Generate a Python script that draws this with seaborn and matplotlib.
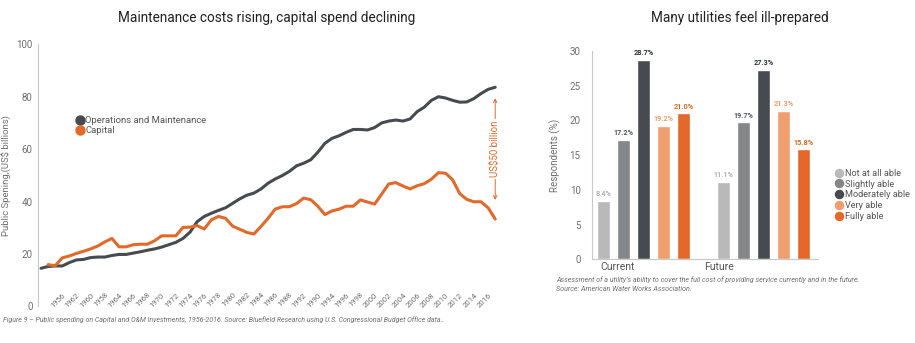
import matplotlib
matplotlib.use("Agg")
import matplotlib.pyplot as plt
from matplotlib.lines import Line2D
import numpy as np
import pandas as pd
import seaborn as sns

# ---- data: public spending (US$ billions) ----
years = list(range(1953, 2018))
om_spend = [14.5, 15.2, 15.4, 15.4, 16.7, 17.7, 17.9, 18.6, 18.8, 18.8,
            19.4, 19.8, 19.8, 20.3, 20.8, 21.4, 21.9, 22.6, 23.5, 24.4,
            25.9, 28.3, 32.3, 34.3, 35.5, 36.6, 37.6, 39.3, 41.0, 42.4,
            43.2, 44.8, 47.0, 48.6, 49.9, 51.5, 53.6, 54.6, 55.9, 58.8,
            62.2, 64.1, 65.1, 66.4, 67.5, 67.5, 67.3, 68.2, 70.0, 70.7,
            71.1, 70.7, 71.5, 74.3, 76.0, 78.6, 80.0, 79.5, 78.6, 77.9,
            78.0, 79.3, 81.2, 82.8, 83.6]
capital_years = years[1:]
capital_spend = [15.9, 15.5, 18.5, 19.2, 20.2, 21.0, 21.9, 23.0, 24.6,
                 25.9, 22.7, 22.7, 23.5, 23.7, 23.7, 25.0, 26.9, 26.9, 26.9,
                 30.1, 30.2, 30.8, 29.5, 33.0, 34.3, 33.6, 30.6, 29.4, 28.2,
                 27.6, 30.5, 33.6, 37.1, 38.0, 38.0, 39.2, 41.3, 40.7, 38.2,
                 35.0, 36.4, 37.1, 38.2, 38.2, 40.6, 39.8, 39.0, 42.8, 46.7,
                 47.2, 45.9, 44.8, 46.0, 46.8, 48.5, 51.0, 50.8, 48.3, 43.0,
                 40.8, 39.9, 39.9, 37.6, 33.3]
tick_years = list(range(1956, 2017, 2))
tick_labels = ["1956", "1962", "1960", "1958", "1964", "1966", "1968", "1970",
               "1972", "1974", "1976", "1978", "1980", "1982", "1984", "1986",
               "1988", "1992", "1990", "1994", "1996", "1998", "2000", "2002",
               "2004", "2006", "2008", "2010", "2012", "2014", "2016"]
gap_label = "US$50 billion"
gap_low, gap_high = 40.6, 79.4

# ---- data: survey of utilities (% of respondents) ----
periods = ["Current", "Future"]
ability = ["Not at all able", "Slightly able", "Moderately able",
           "Very able", "Fully able"]
current_pct = [8.4, 17.2, 28.7, 19.2, 21.0]
future_pct = [11.1, 19.7, 27.3, 21.3, 15.8]

# ---- styling ----
DARK = "#474b50"
ORANGE = "#e2692a"
bar_colors = ["#b9b9b9", "#858688", "#474b50", "#f09e6e", "#e4682a"]
label_colors = ["#b0b0b0", "#55585c", "#2e3134", "#ee9a68", "#e0641f"]
TXT = "#6f6f6f"
TITLE_FONT = ["Roboto", "DejaVu Sans"]

sns.set_theme(style="white")
plt.rcParams["font.family"] = ["Roboto", "DejaVu Sans"]

fig = plt.figure(figsize=(9.15, 3.43), dpi=100)
W, H = 915, 343


def box(x0, y0, x1, y1):
    return [x0 / W, 1 - y1 / H, (x1 - x0) / W, (y1 - y0) / H]


# ================= left: spending lines =================
ax = fig.add_axes(box(38.3, 44.3, 530, 306.3))
line_df = pd.DataFrame({
    "year": years + capital_years,
    "spend": om_spend + capital_spend,
    "series": ["Operations and Maintenance"] * len(years)
              + ["Capital"] * len(capital_years),
})
sns.lineplot(data=line_df, x="year", y="spend", hue="series",
             palette={"Operations and Maintenance": DARK, "Capital": ORANGE},
             linewidth=2.2, ax=ax, legend=False)
ax.set_ylim(0, 100)
ax.set_xlim(years[0] - 0.38, years[0] + 68.9)
ax.set_yticks(range(0, 101, 20))
ax.set_xticks(tick_years)
ax.set_xticklabels(tick_labels, rotation=45, ha="right",
                   rotation_mode="anchor")
ax.tick_params(axis="x", length=0, pad=-10.5, labelsize=5.6, labelcolor=TXT)
ax.tick_params(axis="y", length=0, pad=4, labelsize=7, labelcolor=TXT)
ax.set_xlabel("")
ax.set_ylabel("Public Spening,(US$ billions)", fontsize=6.8, color=TXT)
ax.yaxis.set_label_coords(-0.054, 0.5)
for s in ["top", "right", "bottom"]:
    ax.spines[s].set_visible(False)
ax.spines["left"].set_color("#c8c8c8")
ax.spines["left"].set_linewidth(0.8)

handles = [Line2D([], [], marker="o", linestyle="none", markersize=6.5,
                  color=DARK),
           Line2D([], [], marker="o", linestyle="none", markersize=6.5,
                  color=ORANGE)]
leg = ax.legend(handles, ["Operations and Maintenance", "Capital"],
                loc="upper left", bbox_to_anchor=(0.068, 0.74),
                frameon=False, fontsize=6.8, handletextpad=0.05,
                labelspacing=0.12, borderaxespad=0, handlelength=1.0)
for t in leg.get_texts():
    t.set_color("#555555")

# gap annotation between the two series at the last year
ax.annotate("", xy=(years[-1], gap_high), xytext=(years[-1], gap_low),
            arrowprops=dict(arrowstyle="<->", color=ORANGE, lw=0.7,
                            shrinkA=0, shrinkB=0, mutation_scale=6))
ax.text(years[-1], (gap_low + gap_high) / 2, gap_label, rotation=90,
        ha="center", va="center", fontsize=7, color=ORANGE,
        bbox=dict(facecolor="white", edgecolor="none", pad=1.5))

fig.text(267 / W, 1 - 18 / H, "Maintenance costs rising, capital spend declining",
         ha="center", va="center", fontsize=9.8, color="#222222",
         family=TITLE_FONT)
fig.text(3 / W, 1 - 319.5 / H,
         "Figure 9 \u2013 Public spending on Capital and O&M Investments, "
         "1956-2016. Source: Bluefield Research using U.S. Congressional "
         "Budget Office data..",
         ha="left", va="center", fontsize=5.05, style="italic", color=TXT)

# ================= right: survey bars =================
bx = fig.add_axes(box(591.7, 50.8, 818.3, 259.3))
bar_df = pd.DataFrame({
    "period": [p for p in periods for _ in ability],
    "ability": ability * len(periods),
    "pct": current_pct + future_pct,
})
sns.barplot(data=bar_df, x="period", y="pct", hue="ability",
            hue_order=ability, palette=bar_colors, width=0.833, gap=0.33,
            ax=bx, legend=False, saturation=1, errorbar=None)
for cont, col in zip(bx.containers, label_colors):
    bx.bar_label(cont, fmt="%.1f%%", padding=2, fontsize=5.2,
                 fontweight="bold", color=col)
bx.set_ylim(0, 30)
bx.set_xlim(-0.433, 1.455)
bx.set_yticks(range(0, 31, 5))
bx.set_xticks([-0.214, 0.628])
bx.set_xticklabels(periods)
bx.tick_params(axis="x", length=0, pad=2, labelsize=7.5, labelcolor="#555555")
bx.tick_params(axis="y", length=0, pad=8, labelsize=7, labelcolor=TXT)
bx.set_xlabel("")
bx.set_ylabel("Respondents (%)", fontsize=7, color=TXT, labelpad=6)
for s in ["top", "right"]:
    bx.spines[s].set_visible(False)
for s in ["left", "bottom"]:
    bx.spines[s].set_color("#c8c8c8")
    bx.spines[s].set_linewidth(0.8)

bhandles = [Line2D([], [], marker="o", linestyle="none", markersize=5.8,
                   color=c) for c in bar_colors]
bleg = bx.legend(bhandles, ability, loc="upper left",
                 bbox_to_anchor=(1.055, 0.452), frameon=False, fontsize=6.6,
                 handletextpad=0.1, labelspacing=0.2, borderaxespad=0,
                 handlelength=1.0)
for t in bleg.get_texts():
    t.set_color("#555555")

fig.text(740 / W, 1 - 18 / H, "Many utilities feel ill-prepared",
         ha="center", va="center", fontsize=9.8, color="#222222",
         family=TITLE_FONT)
fig.text(556 / W, 1 - 279.5 / H,
         "Assessment of a utility\u2019s ability to cover the full cost of "
         "providing service currently and in the future.",
         ha="left", va="center", fontsize=5.1, style="italic", color=TXT)
fig.text(556 / W, 1 - 289 / H, "Source: American Water Works Association.",
         ha="left", va="center", fontsize=5.1, style="italic", color=TXT)

fig.savefig("out.png", dpi=100, facecolor="white")
